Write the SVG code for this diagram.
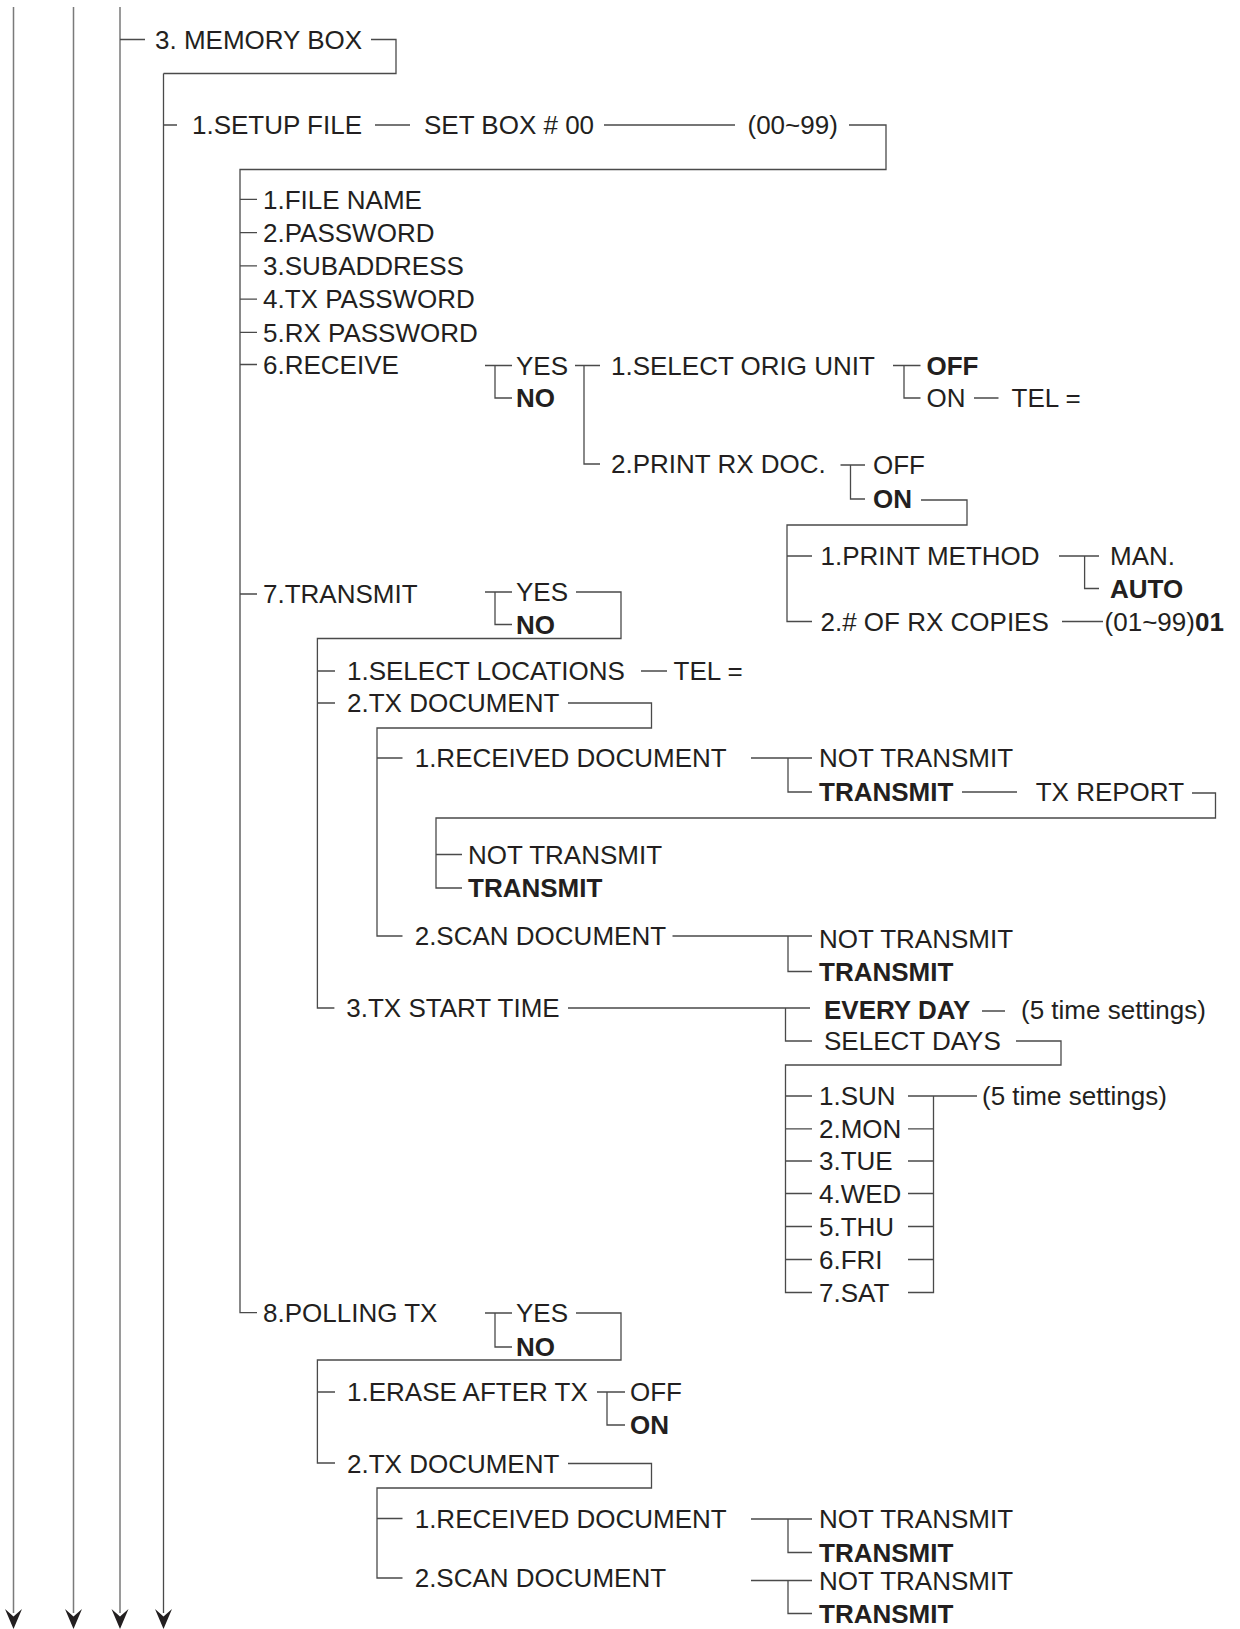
<svg xmlns="http://www.w3.org/2000/svg" width="1240" height="1629" viewBox="0 0 1240 1629">
<style>
text{font-family:"Liberation Sans",Arial,sans-serif;font-size:26px;fill:#231f20}
.b{font-weight:bold}
.ln{fill:none;stroke:#4a4a4a;stroke-width:1.3}
.tr{fill:none;stroke:#7a7a7a;stroke-width:1.5}
.ah{fill:#231f20;stroke:none}
</style>
<rect width="1240" height="1629" fill="#fff"/>
<g id="connectors">
<path class="tr" d="M13.5,7V1613M73.5,7V1613M120,7V1613"/>
<path class="ln" d="M163.5,73.5V1613"/>
<path class="ah" d="M13.5,1629L5,1609L13.5,1616.5L22,1609ZM73.5,1629L65,1609L73.5,1616.5L82,1609ZM120,1629L111.5,1609L120,1616.5L128.5,1609ZM163.5,1629L155,1609L163.5,1616.5L172,1609Z"/>
<path class="ln" d="M120,39.5H145M371,39.5H396V73.5H163.5"/>
<path class="ln" d="M163.5,125H177M375,125H410M604,125H735M849,125H886V169.5H240V1312.7H257"/>
<path class="ln" d="M240,199.4H257M240,232.6H257M240,265.9H257M240,299.1H257M240,332.3H257M240,364.5H257M240,594H257"/>
<path class="ln" d="M485,365.5H512M495,365.5V398H512M575,365.5H600M584,365.5V464H600"/>
<path class="ln" d="M893,365.5H920.5M904,365.5V398H920.5M974,398H998.5"/>
<path class="ln" d="M840.5,465H865M850.5,465V499H865M921,500H967V525H787V621.5H812M787,556H812M1059,556H1099M1084.6,556V588.5H1099M1062,621.5H1103"/>
<path class="ln" d="M485,592H512M495,592V624.5H512M576,592H621V638.5H317.4V1008H334.4M318,671H335M641,671H667M318,703H335M568,703H651.5V728H377V936H402.5M377,758H402.5"/>
<path class="ln" d="M751,758H812M788,758V792H812M962,792H1017M1192,793H1215.5V818H436V888H462M436,854.5H462"/>
<path class="ln" d="M672.5,936H812M788,936V971.5H812"/>
<path class="ln" d="M568,1008H810M785.5,1008V1041H812M982,1011H1005M1016,1041H1061V1065H785.5V1292.5H812M785.5,1096H812M785.5,1128.8H812M785.5,1161H812M785.5,1193.5H812M785.5,1226.5H812M785.5,1259.5H812"/>
<path class="ln" d="M908,1096H977M908,1128.8H933.5M908,1161H933.5M908,1193.5H933.5M908,1226.5H933.5M908,1259.5H933.5M908,1292.5H933.5V1096"/>
<path class="ln" d="M485,1313H512M495,1313V1347H512M576,1313H621V1360H317.4V1463H335M318,1392H335M597,1392H625M607,1392V1425H625M568,1463.5H651.5V1488H377V1578H402.5M377,1518.5H402.5"/>
<path class="ln" d="M751,1519H812M788,1519V1552.5H812M751,1580.5H812M788,1580.5V1613.5H812"/>
</g>
<g id="memory-box"><text x="155" y="49">3. MEMORY BOX</text></g>
<g id="setup-file"><text x="192" y="134.3">1.SETUP FILE</text></g>
<g id="set-box"><text x="424" y="134.3">SET BOX # 00</text></g>
<g id="box-range"><text x="747.5" y="134.3">(00~99)</text></g>
<g id="file-name"><text x="263" y="208.7">1.FILE NAME</text></g>
<g id="password"><text x="263" y="241.9">2.PASSWORD</text></g>
<g id="subaddress"><text x="263" y="275.2">3.SUBADDRESS</text></g>
<g id="tx-password"><text x="263" y="308.4">4.TX PASSWORD</text></g>
<g id="rx-password"><text x="263" y="341.6">5.RX PASSWORD</text></g>
<g id="receive"><text x="263" y="373.8">6.RECEIVE</text></g>
<g id="receive-yes"><text x="516" y="374.8">YES</text></g>
<g id="receive-no"><text class="b" x="516" y="407.3">NO</text></g>
<g id="select-orig-unit"><text x="611" y="374.8">1.SELECT ORIG UNIT</text></g>
<g id="orig-off"><text class="b" x="926.5" y="374.8">OFF</text></g>
<g id="orig-on"><text x="926.5" y="407.3">ON</text></g>
<g id="orig-tel"><text x="1011.5" y="407.3">TEL =</text></g>
<g id="print-rx-doc"><text x="611" y="473.3">2.PRINT RX DOC.</text></g>
<g id="print-off"><text x="873" y="473.8">OFF</text></g>
<g id="print-on"><text class="b" x="873" y="508.3">ON</text></g>
<g id="print-method"><text x="820.5" y="565.3">1.PRINT METHOD</text></g>
<g id="method-man"><text x="1110" y="565.3">MAN.</text></g>
<g id="method-auto"><text class="b" x="1110" y="597.8">AUTO</text></g>
<g id="rx-copies"><text x="820.5" y="631">2.# OF RX COPIES</text></g>
<g id="copies-range"><text x="1104.6" y="631">(01~99)<tspan class="b">01</tspan></text></g>
<g id="transmit"><text x="263" y="603.3">7.TRANSMIT</text></g>
<g id="transmit-yes"><text x="516" y="601.3">YES</text></g>
<g id="transmit-no"><text class="b" x="516" y="633.8">NO</text></g>
<g id="select-locations"><text x="347" y="680.3">1.SELECT LOCATIONS</text></g>
<g id="locations-tel"><text x="673.5" y="680.3">TEL =</text></g>
<g id="tx-document"><text x="347" y="712.3">2.TX DOCUMENT</text></g>
<g id="received-document"><text x="414.7" y="767.3">1.RECEIVED DOCUMENT</text></g>
<g id="rd-not-transmit"><text x="819" y="767.3">NOT TRANSMIT</text></g>
<g id="rd-transmit"><text class="b" x="819" y="801.3">TRANSMIT</text></g>
<g id="tx-report"><text x="1035.7" y="801.3">TX REPORT</text></g>
<g id="report-not-transmit"><text x="468" y="863.8">NOT TRANSMIT</text></g>
<g id="report-transmit"><text class="b" x="468" y="897.3">TRANSMIT</text></g>
<g id="scan-document"><text x="414.7" y="945.3">2.SCAN DOCUMENT</text></g>
<g id="sd-not-transmit"><text x="819" y="948.3">NOT TRANSMIT</text></g>
<g id="sd-transmit"><text class="b" x="819" y="980.8">TRANSMIT</text></g>
<g id="tx-start-time"><text x="346.3" y="1017.3">3.TX START TIME</text></g>
<g id="every-day"><text class="b" x="824" y="1018.8">EVERY DAY</text></g>
<g id="every-day-times"><text x="1021" y="1018.8">(5 time settings)</text></g>
<g id="select-days"><text x="824" y="1050.3">SELECT DAYS</text></g>
<g id="sun"><text x="819" y="1105.3">1.SUN</text></g>
<g id="day-times"><text x="982" y="1105.3">(5 time settings)</text></g>
<g id="mon"><text x="819" y="1138.1">2.MON</text></g>
<g id="tue"><text x="819" y="1170.3">3.TUE</text></g>
<g id="wed"><text x="819" y="1202.8">4.WED</text></g>
<g id="thu"><text x="819" y="1235.8">5.THU</text></g>
<g id="fri"><text x="819" y="1268.8">6.FRI</text></g>
<g id="sat"><text x="819" y="1301.8">7.SAT</text></g>
<g id="polling-tx"><text x="263" y="1322">8.POLLING TX</text></g>
<g id="polling-yes"><text x="516" y="1322.3">YES</text></g>
<g id="polling-no"><text class="b" x="516" y="1356.3">NO</text></g>
<g id="erase-after-tx"><text x="347" y="1401.3">1.ERASE AFTER TX</text></g>
<g id="erase-off"><text x="630" y="1401.3">OFF</text></g>
<g id="erase-on"><text class="b" x="630" y="1434.3">ON</text></g>
<g id="polling-tx-document"><text x="347" y="1472.5">2.TX DOCUMENT</text></g>
<g id="polling-received-document"><text x="414.7" y="1527.8">1.RECEIVED DOCUMENT</text></g>
<g id="prd-not-transmit"><text x="819" y="1528.3">NOT TRANSMIT</text></g>
<g id="prd-transmit"><text class="b" x="819" y="1561.8">TRANSMIT</text></g>
<g id="polling-scan-document"><text x="414.7" y="1587">2.SCAN DOCUMENT</text></g>
<g id="psd-not-transmit"><text x="819" y="1589.8">NOT TRANSMIT</text></g>
<g id="psd-transmit"><text class="b" x="819" y="1623">TRANSMIT</text></g>
</svg>
